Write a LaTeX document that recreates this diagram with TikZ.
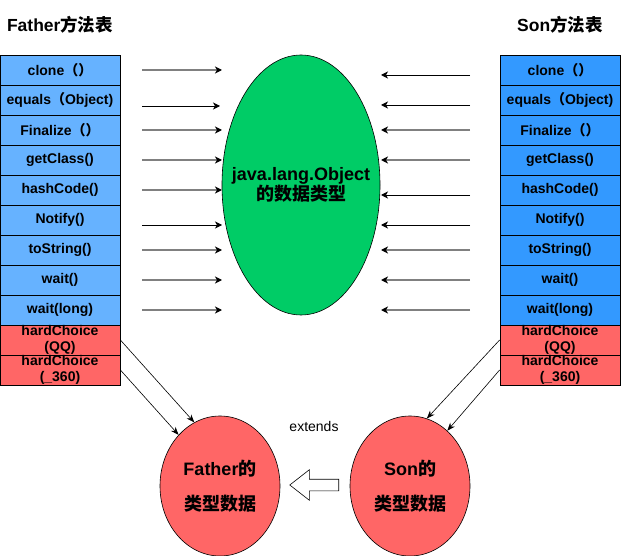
\documentclass[tikz,border=0pt]{standalone}
\usepackage{fontspec}
\setmainfont{Liberation Sans}
\newfontfamily\cjk{Noto Sans CJK SC}
\usetikzlibrary{arrows.meta,shapes.geometric,shapes.arrows}
\definecolor{lblue}{HTML}{66B2FF}
\definecolor{rblue}{HTML}{3399FF}
\definecolor{redfill}{HTML}{FF6666}
\definecolor{greenfill}{HTML}{00CC66}
\definecolor{grayline}{HTML}{808080}
\tikzset{
  cell/.style={draw=black, line width=0.8pt, minimum width=120pt, minimum height=30pt, inner sep=0pt,
    font=\bfseries\fontsize{14}{15.5}\selectfont, align=center},
  lcell/.style={cell, fill=lblue},
  rcell/.style={cell, fill=rblue},
  hcell/.style={cell, fill=redfill, font=\bfseries\fontsize{14}{16}\selectfont},
  title/.style={font=\bfseries\fontsize{17.5}{20}\selectfont, inner sep=0pt},
  garrow/.style={draw=grayline, line width=1.4pt, -{Stealth[length=7pt,width=7pt,inset=2pt,fill=black,color=black]}},
  barrow/.style={draw=black, line width=0.8pt, -{Stealth[length=7pt,width=7pt,inset=2pt]}},
  darrow/.style={draw=black, line width=0.6pt, -{Stealth[length=8pt,width=6pt,inset=2.5pt]}},
  bigtext/.style={font=\bfseries\fontsize{18}{20}\selectfont, align=center},
}
\begin{document}
\begin{tikzpicture}[x=1pt,y=-1pt]
\useasboundingbox (0,0) rectangle (621,556);
% titles
\node[title] (tf) at (60,25) {Father{\cjk 方法表}};
\node[title] (ts) at (560,25) {Son{\cjk 方法表}};
% left table
\node[lcell] (l1) at (60,70) {clone{\cjk （）}};
\node[lcell] (l2) at (60,100) {equals{\cjk （}Object)};
\node[lcell] (l3) at (60,130) {Finalize{\cjk （）}};
\node[lcell] (l4) at (60,160) {getClass()};
\node[lcell] (l5) at (60,190) {hashCode()};
\node[lcell] (l6) at (60,220) {Notify()};
\node[lcell] (l7) at (60,250) {toString()};
\node[lcell] (l8) at (60,280) {wait()};
\node[lcell] (l9) at (60,310) {wait(long)};
\node[hcell] (l10) at (60,340) {hardChoice\\(QQ)};
\node[hcell] (l11) at (60,370) {hardChoice\\(\_360)};
% right table
\node[rcell] (r1) at (560,70) {clone{\cjk （）}};
\node[rcell] (r2) at (560,100) {equals{\cjk （}Object)};
\node[rcell] (r3) at (560,130) {Finalize{\cjk （）}};
\node[rcell] (r4) at (560,160) {getClass()};
\node[rcell] (r5) at (560,190) {hashCode()};
\node[rcell] (r6) at (560,220) {Notify()};
\node[rcell] (r7) at (560,250) {toString()};
\node[rcell] (r8) at (560,280) {wait()};
\node[rcell] (r9) at (560,310) {wait(long)};
\node[hcell] (r10) at (560,340) {hardChoice\\(QQ)};
\node[hcell] (r11) at (560,370) {hardChoice\\(\_360)};
% object ellipse
\node[ellipse, draw=black, line width=0.6pt, fill=greenfill, minimum width=158pt, minimum height=260pt, inner sep=0pt] (obj) at (301,185) {};
\node[bigtext] (objt) at (301,185) {java.lang.Object\\{\cjk 的数据类型}};
% left arrows
\foreach \i/\y/\s/\e in {1/70/garrow/222,2/106/barrow/220,3/130/garrow/222,4/160/garrow/222,5/190/garrow/222,6/225/barrow/222,7/250/garrow/222,8/280/garrow/222,9/310/garrow/222}{
  \coordinate (la\i) at (142,\y);
  \coordinate (lb\i) at (\e,\y);
  \draw[\s] (la\i) -- (lb\i);
}
% right arrows
\foreach \i/\y/\s in {1/75/barrow,2/105/barrow,3/130/garrow,4/160/garrow,5/195/barrow,6/225/barrow,7/250/garrow,8/280/garrow,9/310/garrow}{
  \coordinate (ra\i) at (470,\y);
  \coordinate (rb\i) at (381,\y);
  \draw[\s] (ra\i) -- (rb\i);
}
% class circles
\node[ellipse, draw=black, line width=0.6pt, fill=redfill, minimum width=120pt, minimum height=140pt, inner sep=0pt] (fa) at (220,486) {};
\node[bigtext, font=\bfseries\fontsize{18}{35}\selectfont] (fat) at (220,486) {Father{\cjk 的}\\{\cjk 类型数据}};
\node[ellipse, draw=black, line width=0.6pt, fill=redfill, minimum width=120pt, minimum height=140pt, inner sep=0pt] (so) at (410,486) {};
\node[bigtext, font=\bfseries\fontsize{18}{35}\selectfont] (sot) at (410,486) {Son{\cjk 的}\\{\cjk 类型数据}};
% extends
\node[font=\fontsize{14}{16}\selectfont] (ext) at (314,426) {extends};
\node[single arrow, draw=black, line width=0.6pt, fill=white, shape border rotate=180,
  minimum height=49pt, minimum width=30pt, inner sep=5.5pt, single arrow head extend=9.5pt,
  single arrow tip angle=76] (inh) at (318,485) {};
% diagonal arrows
\draw[darrow] (l10.east) -- (fa.112);
\draw[darrow] (l11.east) -- (fa.129);
\draw[darrow] (r10.west) -- (so.76);
\draw[darrow] (r11.west) -- (so.56);
\end{tikzpicture}
\end{document}
